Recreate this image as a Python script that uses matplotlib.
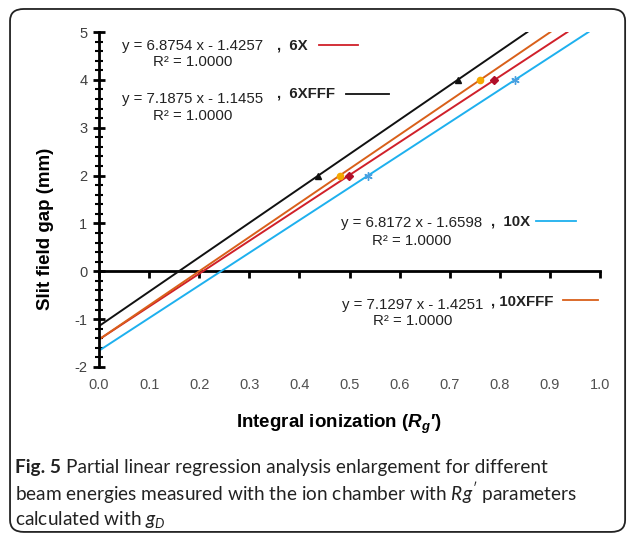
import matplotlib
matplotlib.use("Agg")
import matplotlib.pyplot as plt
from matplotlib.patches import FancyBboxPatch
from matplotlib.lines import Line2D
from matplotlib.ticker import MultipleLocator

plt.rcParams['font.family'] = ['Liberation Sans', 'DejaVu Sans']
plt.rcParams['mathtext.fontset'] = 'custom'
plt.rcParams['mathtext.rm'] = 'Lato'
plt.rcParams['mathtext.it'] = 'Lato:italic'
plt.rcParams['mathtext.bf'] = 'Liberation Sans:bold:italic'

# 数据：四种能量的拟合结果
energies = ['6X', '6XFFF', '10X', '10XFFF']
slopes = [6.8754, 7.1875, 6.8172, 7.1297]
intercepts = [-1.4257, -1.1455, -1.6598, -1.4251]
r2 = [1.0000, 1.0000, 1.0000, 1.0000]
line_x_end = [0.935, 0.855, 0.977, 0.901]
line_y_end = [5, 5, 5, 5]
point_gap = [2, 4]
point_rg = [[0.498, 0.789], [0.438, 0.716], [0.537, 0.831], [0.480, 0.761]]

colors = ['#D0202A', '#111111', '#1EB0EE', '#D9601A']
mk = ['D', '^', (6, 2, 0), 'o']
mk_color = ['#B0102A', '#111111', '#4AA0E0', '#F5A800']

fig = plt.figure(figsize=(6.27, 5.38), dpi=100)
ax = fig.add_axes([0.158, 0.318, 0.799, 0.6225])

for i in range(4):
    ax.plot([0, line_x_end[i]], [intercepts[i], line_y_end[i]], color=colors[i], lw=1.4)
    ax.plot(point_rg[i], point_gap, linestyle='none', marker=mk[i], color=mk_color[i],
            markersize=4.5 if i != 2 else 6, markeredgewidth=1)

ax.set_xlim(0, 1.0)
ax.set_ylim(-2, 5)
for s in ['top', 'right', 'bottom']:
    ax.spines[s].set_visible(False)
ax.spines['left'].set_linewidth(2)
ax.yaxis.set_major_locator(MultipleLocator(1))
ax.yaxis.set_minor_locator(MultipleLocator(0.2))
ax.tick_params(axis='y', which='major', direction='inout', length=9, width=2,
               labelsize=10.5, labelcolor='#404040', pad=4)
ax.tick_params(axis='y', which='minor', direction='inout', length=6, width=1.5)
ax.xaxis.set_major_locator(MultipleLocator(0.1))
ax.tick_params(axis='x', length=0, labelsize=10.5, labelcolor='#505050', pad=8)
ax.set_xticklabels([f"{v:.1f}" for v in ax.get_xticks()])
ax.set_yticklabels([f"{int(v)}" for v in ax.get_yticks()])

# y=0 处的横轴
sec = ax.secondary_xaxis(2 / 7)
sec.spines['bottom'].set_linewidth(2)
sec.xaxis.set_major_locator(MultipleLocator(0.1))
sec.tick_params(axis='x', direction='out', length=5, width=2, labelbottom=False)
sec.set_xticklabels([])

# 方程文字
eq_pos = [(0.046, 4.70), (0.046, 3.60), (0.483, 1.01), (0.485, -0.70)]
r2_pos = [(0.108, 4.37), (0.108, 3.25), (0.545, 0.64), (0.547, -1.03)]
name_pos = [(0.355, 4.72), (0.355, 3.71), (0.782, 1.03), (0.782, -0.64)]
key_x = [(0.439, 0.517), (0.493, 0.579), (0.872, 0.952), (0.926, 0.996)]
key_y = [4.72, 3.71, 1.04, -0.61]
for i in range(4):
    sign = '-' if intercepts[i] < 0 else '+'
    ax.text(*eq_pos[i], f"y = {slopes[i]:.4f} x {sign} {abs(intercepts[i]):.4f}",
            fontsize=10.8, va='center', ha='left', color='#222222')
    ax.text(*r2_pos[i], f"R² = {r2[i]:.4f}", fontsize=10.8, va='center', ha='left', color='#222222')
    ax.text(*name_pos[i], f",  {energies[i]}" if i < 3 else f", {energies[i]}",
            fontsize=10.8, fontweight='bold', va='center', ha='left', color='#222222')
    ax.add_line(Line2D(key_x[i], [key_y[i], key_y[i]], color=colors[i], lw=1.3, clip_on=False))

fig.text(0.072, 0.575, "Slit field gap (mm)", rotation=90, ha='center', va='center',
         fontsize=13.5, fontweight='bold')
fig.text(0.54, 0.212, "Integral ionization ($\\mathbf{R_g}$′)", ha='center', va='center',
         fontsize=13.5, fontweight='bold')

# 图注外框
box = FancyBboxPatch((0.016 + 0.02, 0.0093 + 0.022), 0.981 - 0.04, 0.976 - 0.044,
                     boxstyle="round,pad=0.02,rounding_size=0.022", transform=fig.transFigure,
                     facecolor='none', edgecolor='#222222', lw=1.3)
fig.patches.append(box)

cap_font = dict(fontsize=13.7, color='#222222', family=['Lato', 'DejaVu Sans'])
t1 = fig.text(0.024, 0.131, "Fig. 5", fontweight='bold', ha='left', va='center', **cap_font)
fig.canvas.draw()
bb = t1.get_window_extent()
x_next = (bb.x1 + 5) / fig.bbox.width
fig.text(x_next, 0.131, "Partial linear regression analysis enlargement for different",
         ha='left', va='center', **cap_font)
fig.text(0.024, 0.083, "beam energies measured with the ion chamber with $Rg'$ parameters",
         ha='left', va='center', **cap_font)
fig.text(0.024, 0.035, "calculated with $g_D$", ha='left', va='center', **cap_font)

fig.savefig("out.png", dpi=100)
